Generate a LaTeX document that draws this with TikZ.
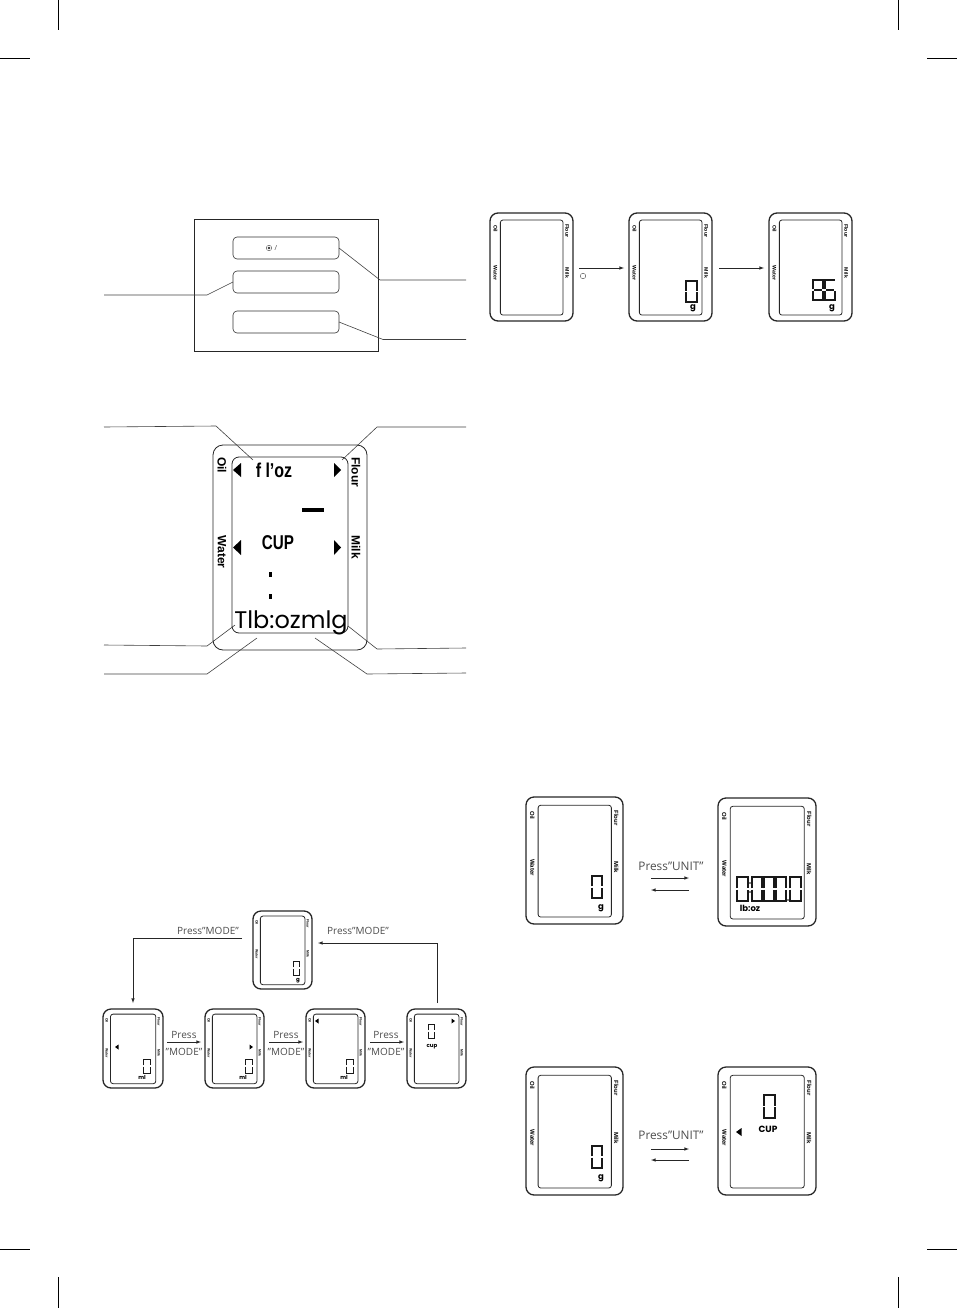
\documentclass[tikz,border=0pt]{standalone}
\usepackage{fontspec}
\setmainfont{Open Sans}
\newfontfamily\lcdfont{Liberation Sans}
\newfontfamily\unitfont{Poppins}
\usetikzlibrary{calc}

\tikzset{
	leader/.style={line width=.6pt,color=black!75},
	flow/.style={->,>=latex,line width=.6pt,color=black!85},
	bodybox/.style={draw=black!85,line width=1.3pt,rounded corners=8pt,inner sep=0pt,outer sep=0pt,anchor=north west},
	screenbox/.style={draw=black!85,line width=.8pt,rounded corners=2.5pt,inner sep=0pt,outer sep=0pt,anchor=north west},
	keybox/.style={draw=black!80,line width=.6pt,rounded corners=4pt,inner sep=0pt,outer sep=0pt,anchor=north west,minimum width=106pt,minimum height=22pt},
	presslabel/.style={color=black!70,inner sep=0pt,font=\fontsize{10}{10}\selectfont},
	unitpress/.style={color=black!70,inner sep=0pt,font=\fontsize{11.8}{12}\selectfont},
	unitlabel/.style={inner sep=0pt,font=\unitfont\bfseries\fontsize{8.5}{8.5}\selectfont},
	unitsmall/.style={inner sep=0pt,font=\unitfont\bfseries\fontsize{5.5}{5.5}\selectfont},
	croplabel/.style={line width=.9pt},
	segment/.style={line width=1.2pt,color=black!90}
}

% 秤的外框和屏幕:名字,左,上,右,下,字号
\newcommand{\lcdscale}[6]{%
	\pgfmathsetmacro\lcdw{#4-#2}
	\pgfmathsetmacro\lcdh{#5-#3}
	\node[bodybox,minimum width=\lcdw pt,minimum height=\lcdh pt] (#1) at (#2,#3) {};
	\node[screenbox,minimum width=.755*\lcdw pt,minimum height=.88*\lcdh pt] (#1s) at (#2+.125*\lcdw,#3+.065*\lcdh) {};
	\node[rotate=-90,inner sep=0pt,font=\lcdfont\bfseries\fontsize{#6}{#6}\selectfont] (#1oil) at (#2+.065*\lcdw,#3+.145*\lcdh) {Oil};
	\node[rotate=-90,inner sep=0pt,font=\lcdfont\bfseries\fontsize{#6}{#6}\selectfont] (#1water) at (#2+.065*\lcdw,#3+.555*\lcdh) {Water};
	\node[rotate=-90,inner sep=0pt,font=\lcdfont\bfseries\fontsize{#6}{#6}\selectfont] (#1flour) at (#4-.07*\lcdw,#3+.165*\lcdh) {Flour};
	\node[rotate=-90,inner sep=0pt,font=\lcdfont\bfseries\fontsize{#6}{#6}\selectfont] (#1milk) at (#4-.07*\lcdw,#3+.555*\lcdh) {Milk};
}

% 数码管的 0:左,上,右,下,中间断开
\newcommand{\lcdzero}[4]{%
	\draw[segment] (#1,{(#2+#4)/2-.6}) -- (#1,#2) -- (#3,#2) -- (#3,{(#2+#4)/2-.6});
	\draw[segment] (#1,{(#2+#4)/2+.6}) -- (#1,#4) -- (#3,#4) -- (#3,{(#2+#4)/2+.6});
}
\newcommand{\lcdeight}[4]{%
	\lcdzero{#1}{#2}{#3}{#4}
	\draw[segment] ({#1+.9},{(#2+#4)/2}) -- ({#3-.9},{(#2+#4)/2});
}
\newcommand{\lcdsix}[4]{%
	\draw[segment] (#1,{(#2+#4)/2-.6}) -- (#1,#2) -- (#3,#2);
	\draw[segment] ({#1+.9},{(#2+#4)/2}) -- ({#3-.9},{(#2+#4)/2});
	\draw[segment] (#1,{(#2+#4)/2+.6}) -- (#1,#4) -- (#3,#4) -- (#3,{(#2+#4)/2+.6});
}

\begin{document}
\begin{tikzpicture}[x=1pt,y=-1pt]
	\useasboundingbox (0,0) rectangle (957,1308);

	% 裁切线
	\draw[croplabel] (58.5,0) -- (58.5,30);
	\draw[croplabel] (898,0) -- (898,30);
	\draw[croplabel] (0,58) -- (30,58);
	\draw[croplabel] (927,58) -- (957,58);
	\draw[croplabel] (58.5,1277) -- (58.5,1308);
	\draw[croplabel] (898,1277) -- (898,1308);
	\draw[croplabel] (0,1249) -- (30,1249);
	\draw[croplabel] (927,1249) -- (957,1249);

	% 按键面板
	\node[draw=black!85,line width=.8pt,inner sep=0pt,outer sep=0pt,anchor=north west,minimum width=184pt,minimum height=132pt] (panel) at (194,219) {};
	\node[keybox] (keypower) at (233,237) {};
	\node[keybox] (keymode) at (233,271) {};
	\node[keybox] (keyunit) at (233,311) {};
	\node[draw=black!70,circle,line width=.4pt,minimum size=5.5pt,inner sep=0pt] (powersym) at (269,248) {};
	\fill[black!80] (powersym.center) circle (1.3pt);
	\node[color=black!70,inner sep=0pt,font=\fontsize{7}{7}\selectfont] (powerslash) at (276,248) {/};

	\coordinate (keypowerA) at (380,280);
	\coordinate (keypowerB) at (466,280);
	\coordinate (keymodeA) at (207,295);
	\coordinate (keymodeB) at (104,295);
	\coordinate (keyunitA) at (383,339.5);
	\coordinate (keyunitB) at (466,339.5);
	\draw[leader] (keypower.east) -- (keypowerA) -- (keypowerB);
	\draw[leader] (keymode.west) -- (keymodeA) -- (keymodeB);
	\draw[leader] (keyunit.east) -- (keyunitA) -- (keyunitB);

	% 大屏幕
	\node[bodybox,line width=.8pt,rounded corners=10pt,minimum width=154pt,minimum height=205pt] (big) at (213,445) {};
	\node[screenbox,rounded corners=7pt,minimum width=116pt,minimum height=176pt] (bigs) at (232,457) {};
	\node[rotate=-90,inner sep=0pt,font=\lcdfont\bfseries\fontsize{12}{12}\selectfont] (bigoil) at (222,465) {Oil};
	\node[rotate=-90,inner sep=0pt,font=\lcdfont\bfseries\fontsize{12}{12}\selectfont] (bigwater) at (222,552) {Water};
	\node[rotate=-90,inner sep=0pt,font=\lcdfont\bfseries\fontsize{12}{12}\selectfont] (bigflour) at (356,472) {Flour};
	\node[rotate=-90,inner sep=0pt,font=\lcdfont\bfseries\fontsize{12}{12}\selectfont] (bigmilk) at (356,547) {Milk};
	\node[inner sep=0pt,font=\lcdfont\bfseries\fontsize{20}{20}\selectfont] (bigfloz) at (274,470) {\scalebox{.8}[1]{f l’oz}};
	\node[inner sep=0pt,font=\lcdfont\bfseries\fontsize{20}{20}\selectfont] (bigcup) at (278,543) {\scalebox{.76}[1]{CUP}};
	\node[inner sep=0pt,font=\unitfont\fontsize{24}{24}\selectfont,anchor=base] (bigunits) at (291,628) {Tlb:ozmlg};
	\fill (241,463) -- (241,477) -- (233,470) -- cycle;
	\fill (334,463) -- (334,477) -- (341,470) -- cycle;
	\fill (241,540) -- (241,555) -- (233,547.5) -- cycle;
	\fill (334,540) -- (334,555) -- (341,547.5) -- cycle;
	\fill (302,508) rectangle (324,512);
	\fill (269,572) rectangle (272,577);
	\fill (269,594) rectangle (272,599);

	\coordinate (bigLa) at (253,460);
	\coordinate (bigLb) at (216,426);
	\coordinate (bigLc) at (104,427);
	\coordinate (bigRa) at (342,460);
	\coordinate (bigRb) at (377,427);
	\coordinate (bigRc) at (466,427);
	\coordinate (bigMa) at (235,625);
	\coordinate (bigMb) at (207,646);
	\coordinate (bigMc) at (104,645);
	\coordinate (bigNa) at (257,638);
	\coordinate (bigNb) at (207,674);
	\coordinate (bigNc) at (104,674);
	\coordinate (bigPa) at (348,626);
	\coordinate (bigPb) at (377,649);
	\coordinate (bigPc) at (466,648);
	\coordinate (bigQa) at (315,638);
	\coordinate (bigQb) at (367,674);
	\coordinate (bigQc) at (466,673);
	\draw[leader] (bigLa) -- (bigLb) -- (bigLc);
	\draw[leader] (bigRa) -- (bigRb) -- (bigRc);
	\draw[leader] (bigMa) -- (bigMb) -- (bigMc);
	\draw[leader] (bigNa) -- (bigNb) -- (bigNc);
	\draw[leader] (bigPa) -- (bigPb) -- (bigPc);
	\draw[leader] (bigQa) -- (bigQb) -- (bigQc);

	% 开机三步
	\lcdscale{on}{490}{213}{573}{321}{5.2}
	\lcdscale{zero}{629}{213}{712}{321}{5.2}
	\lcdscale{weigh}{769}{213}{852}{321}{5.2}
	\lcdzero{686}{281}{697}{302}
	\node[unitlabel] (zerog) at (693,308) {g};
	\lcdeight{813}{280}{823}{300}
	\lcdsix{825}{280}{835}{300}
	\node[unitlabel] (weighg) at (832,308) {g};
	\node[draw=black!70,circle,line width=.4pt,minimum size=5.5pt,inner sep=0pt] (onsym) at (583,276) {};
	\draw[flow] ([xshift=6pt,yshift=-1pt]on.east) -- ([xshift=-5pt,yshift=-1pt]zero.west);
	\draw[flow] ([xshift=7pt,yshift=-1pt]zero.east) -- ([xshift=-5pt,yshift=-1pt]weigh.west);

	% MODE 循环
	\lcdscale{modeg}{253}{911}{312}{989}{3.4}
	\lcdscale{modea}{103}{1009}{163}{1088}{3.4}
	\lcdscale{modeb}{205}{1009}{264}{1088}{3.4}
	\lcdscale{modec}{306}{1009}{365}{1088}{3.4}
	\lcdscale{moded}{407}{1009}{466}{1088}{3.4}
	\begin{scope}[segment/.append style={line width=.9pt}]
		\lcdzero{293}{961}{299}{975}
		\lcdzero{143}{1059}{150}{1073}
		\lcdzero{245}{1059}{252}{1073}
		\lcdzero{346}{1059}{353}{1073}
		\lcdzero{428}{1024}{434}{1038}
	\end{scope}
	\node[unitsmall] (modegunit) at (298,981) {g};
	\node[unitsmall] (modeaunit) at (142,1077) {ml};
	\node[unitsmall] (modebunit) at (243,1077) {ml};
	\node[unitsmall] (modecunit) at (344,1077) {ml};
	\node[unitsmall] (modedunit) at (432,1047) {cup};
	\fill (118.5,1044.5) -- (118.5,1049.5) -- (115,1047) -- cycle;
	\fill (249.5,1044.5) -- (249.5,1049.5) -- (253,1047) -- cycle;
	\fill (318.5,1018.5) -- (318.5,1023.5) -- (315,1021) -- cycle;
	\fill (451.5,1018.5) -- (451.5,1023.5) -- (455,1021) -- cycle;

	\draw[flow] ([xshift=4pt,yshift=6.5pt]modea.east) -- ([xshift=-4pt,yshift=6.5pt]modeb.west);
	\draw[flow] ([xshift=5pt,yshift=6.5pt]modeb.east) -- ([xshift=-3pt,yshift=6.5pt]modec.west);
	\draw[flow] ([xshift=5pt,yshift=6.5pt]modec.east) -- ([xshift=-3pt,yshift=6.5pt]moded.west);
	\node[presslabel] (pressa) at (184,1035) {Press};
	\node[presslabel] (modetxta) at (184,1052) {"MODE"};
	\node[presslabel] (pressb) at (286,1035) {Press};
	\node[presslabel] (modetxtb) at (286,1052) {"MODE"};
	\node[presslabel] (pressc) at (386,1035) {Press};
	\node[presslabel] (modetxtc) at (386,1052) {"MODE"};

	\coordinate (backA) at (133,938);
	\coordinate (backB) at (437,943);
	\draw[flow] ([xshift=-11pt,yshift=12pt]modeg.west) -- (backA) -- ([xshift=30pt,yshift=6pt]modea.north west);
	\draw[flow] ([xshift=30pt,yshift=6pt]moded.north west) -- (backB) -- ([xshift=6pt,yshift=7pt]modeg.east);
	\node[presslabel] (backtxta) at (208,931) {Press"MODE"};
	\node[presslabel] (backtxtb) at (358,931) {Press"MODE"};

	% 单位切换
	\lcdscale{unita}{526}{797}{623}{924}{6}
	\lcdscale{unitb}{718}{798}{816}{926}{6}
	\lcdzero{592}{876}{602}{898}
	\node[unitlabel] (unitag) at (601,908) {g};
	\lcdzero{737}{877}{748}{901}
	\lcdzero{752}{877}{762}{901}
	\lcdzero{764}{877}{774}{901}
	\lcdzero{776}{877}{786}{901}
	\lcdzero{790}{877}{801}{901}
	\fill (750,883) circle (.8pt);
	\fill (750,892) circle (.8pt);
	\fill (788,900) circle (.8pt);
	\node[unitlabel] (unitbtxt) at (750,908) {lb:oz};
	\draw[flow] ([xshift=28pt,yshift=-17.5pt]unita.east) -- ([xshift=-29pt,yshift=-16pt]unitb.west);
	\draw[flow] ([xshift=-29pt,yshift=-28pt]unitb.west) -- ([xshift=28pt,yshift=-29.5pt]unita.east);
	\node[unitpress] (unittxta) at (671,866) {Press"UNIT"};

	\lcdscale{cupa}{526}{1067}{623}{1195}{6}
	\lcdscale{cupb}{718}{1067}{816}{1195}{6}
	\lcdzero{592}{1146}{602}{1168}
	\node[unitlabel] (cupag) at (601,1178) {g};
	\lcdzero{764}{1095}{775}{1118}
	\node[unitlabel,font=\unitfont\bfseries\fontsize{9}{9}\selectfont] (cupbtxt) at (768,1129) {CUP};
	\fill (741.5,1128) -- (741.5,1136) -- (736,1132) -- cycle;
	\draw[flow] ([xshift=28pt,yshift=-18pt]cupa.east) -- ([xshift=-29pt,yshift=-18pt]cupb.west);
	\draw[flow] ([xshift=-29pt,yshift=-29pt]cupb.west) -- ([xshift=28pt,yshift=-29pt]cupa.east);
	\node[unitpress] (unittxtb) at (671,1135) {Press"UNIT"};
\end{tikzpicture}
\end{document}
